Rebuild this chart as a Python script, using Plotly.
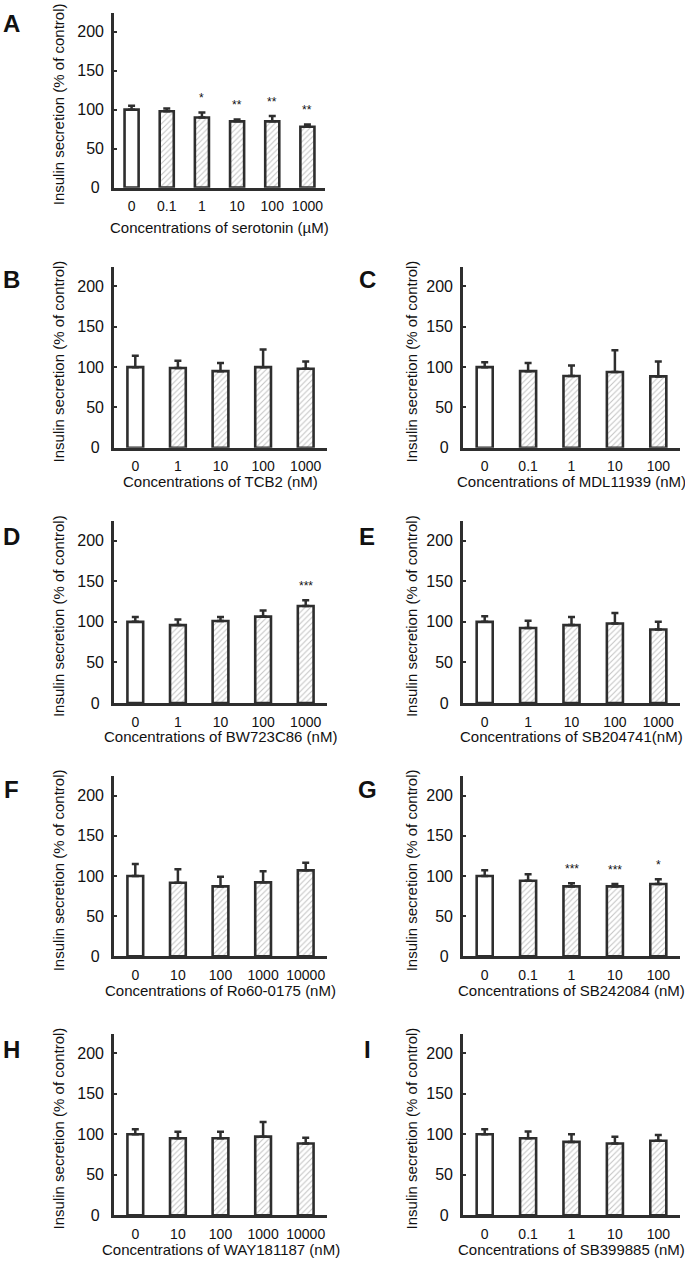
import plotly.graph_objects as go

# ---------------- data ----------------
A_conc = ["0", "0.1", "1", "10", "100", "1000"]
A_mean = [100, 98, 90, 85, 85, 78]
A_err = [5, 3.5, 6.5, 2.5, 7, 3]
A_sig = ["", "", "*", "**", "**", "**"]
A_label = "Concentrations of serotonin (µM)"

B_conc = ["0", "1", "10", "100", "1000"]
B_mean = [100, 99, 95, 100, 98]
B_err = [14, 9, 10, 22, 9]
B_sig = ["", "", "", "", ""]
B_label = "Concentrations of TCB2 (nM)"

C_conc = ["0", "0.1", "1", "10", "100"]
C_mean = [100, 95, 89, 94, 88.5]
C_err = [6, 10, 13, 27, 18.5]
C_sig = ["", "", "", "", ""]
C_label = "Concentrations of MDL11939 (nM)"

D_conc = ["0", "1", "10", "100", "1000"]
D_mean = [100, 96, 101, 106.5, 119.5]
D_err = [6, 7, 5, 7.5, 7]
D_sig = ["", "", "", "", "***"]
D_label = "Concentrations of BW723C86 (nM)"

E_conc = ["0", "1", "10", "100", "1000"]
E_mean = [100, 92.5, 96, 98, 90.5]
E_err = [7, 9, 10, 13, 9.5]
E_sig = ["", "", "", "", ""]
E_label = "Concentrations of SB204741(nM)"

F_conc = ["0", "10", "100", "1000", "10000"]
F_mean = [100, 91.5, 87, 92, 107]
F_err = [15, 17, 12, 14, 9.5]
F_sig = ["", "", "", "", ""]
F_label = "Concentrations of Ro60-0175 (nM)"

G_conc = ["0", "0.1", "1", "10", "100"]
G_mean = [100, 94, 87, 87, 90]
G_err = [7, 8, 4, 3, 6]
G_sig = ["", "", "***", "***", "*"]
G_label = "Concentrations of SB242084 (nM)"

H_conc = ["0", "10", "100", "1000", "10000"]
H_mean = [100, 95, 95, 97, 88.5]
H_err = [6, 8, 8, 18, 7]
H_sig = ["", "", "", "", ""]
H_label = "Concentrations of WAY181187 (nM)"

I_conc = ["0", "0.1", "1", "10", "100"]
I_mean = [100, 95, 90.5, 88.5, 92]
I_err = [6, 8.5, 9.5, 8.5, 7]
I_sig = ["", "", "", "", ""]
I_label = "Concentrations of SB399885 (nM)"

y_ticks = [0, 50, 100, 150, 200]
y_title = "Insulin secretion (% of control)"

# ---------------- layout geometry (pixels) ----------------
W, H = 685, 1271
LINE = "#2e2e2e"
TEXT = "#111111"
FONT = "Liberation Sans, Arial, sans-serif"

rows = [(13, 189), (269, 451), (525, 708), (782, 963), (1041, 1224)]
letter_tops = [14, 272, 531, 786, 1047]
title_off = [40, 34, 34, 35, 34]
cols = [(114, 327), (463, 680)]
ytitle_x = [58, 411]
letter_x = [11, 367]

panels = [
    ("A", A_conc, A_mean, A_err, A_sig, A_label, 0, 0),
    ("B", B_conc, B_mean, B_err, B_sig, B_label, 1, 0),
    ("C", C_conc, C_mean, C_err, C_sig, C_label, 1, 1),
    ("D", D_conc, D_mean, D_err, D_sig, D_label, 2, 0),
    ("E", E_conc, E_mean, E_err, E_sig, E_label, 2, 1),
    ("F", F_conc, F_mean, F_err, F_sig, F_label, 3, 0),
    ("G", G_conc, G_mean, G_err, G_sig, G_label, 3, 1),
    ("H", H_conc, H_mean, H_err, H_sig, H_label, 4, 0),
    ("I", I_conc, I_mean, I_err, I_sig, I_label, 4, 1),
]

fig = go.Figure()
layout = {}
annotations = []

for i, (letter, conc, mean, err, sig, xlabel, r, c) in enumerate(panels):
    k = i + 1
    xa = "x" if k == 1 else f"x{k}"
    ya = "y" if k == 1 else f"y{k}"
    n = len(conc)
    top, zero = rows[r]
    x0, x1 = cols[c]
    if letter == "A":
        x1 = 325
    bw = 0.4 if n == 6 else 0.37

    fig.add_trace(go.Bar(
        x=conc, y=mean, width=bw, xaxis=xa, yaxis=ya,
        marker=dict(
            color="white",
            line=dict(color=LINE, width=2.6),
            pattern=dict(shape=["" if j == 0 else "/" for j in range(n)],
                         fgcolor="#858585", bgcolor="white", size=4, solidity=0.25),
        ),
        error_y=dict(type="data", symmetric=False, array=err, arrayminus=[0] * n,
                     color=LINE, thickness=2.5, width=3.5),
        showlegend=False, hoverinfo="skip",
    ))

    layout["xaxis" if k == 1 else f"xaxis{k}"] = dict(
        domain=[x0 / W, x1 / W], anchor=ya, type="category",
        range=[-0.5, n - 0.5], showline=True, linecolor=LINE, linewidth=2.6,
        ticks="", showgrid=False, zeroline=False, fixedrange=True,
        tickfont=dict(size=14, color=TEXT, family=FONT), ticklabelstandoff=4,
    )
    layout["yaxis" if k == 1 else f"yaxis{k}"] = dict(
        domain=[1 - zero / H, 1 - top / H], anchor=xa, range=[0, 224],
        tickvals=y_ticks, ticktext=["0\u00a0", "50", "100", "150", "200"],
        ticks="inside", ticklen=3, tickwidth=2, tickcolor=LINE,
        showline=True, linecolor=LINE, linewidth=2.6,
        showgrid=False, zeroline=False, fixedrange=True,
        tickfont=dict(size=16, color=TEXT, family=FONT), ticklabelstandoff=4,
    )

    # significance stars (x given as category index)
    for j in range(n):
        if sig[j]:
            annotations.append(dict(
                x=j, y=mean[j] + err[j], xref=xa, yref=ya, text=sig[j],
                showarrow=False, yanchor="bottom", yshift=5,
                font=dict(size=12, color=TEXT, family=FONT),
            ))
    # x title
    annotations.append(dict(
        x=((x0 + x1) / 2) / W, y=1 - (zero + title_off[r]) / H, xref="paper", yref="paper",
        text=xlabel, showarrow=False, xanchor="center", yanchor="middle",
        font=dict(size=15, color=TEXT, family=FONT),
    ))
    # y title
    annotations.append(dict(
        x=ytitle_x[c] / W, y=1 - ((top + zero) / 2 + 4) / H, xref="paper", yref="paper",
        text=y_title, showarrow=False, textangle=-90, xanchor="center", yanchor="middle",
        font=dict(size=15, color=TEXT, family=FONT),
    ))
    # panel letter
    annotations.append(dict(
        x=letter_x[c] / W, y=1 - (letter_tops[r] - 6) / H, xref="paper", yref="paper",
        text=f"<b>{letter}</b>", showarrow=False, xanchor="center", yanchor="top",
        font=dict(size=24, color="#111111", family=FONT),
    ))

fig.update_layout(
    width=W, height=H, margin=dict(l=0, r=0, t=0, b=0),
    paper_bgcolor="white", plot_bgcolor="white",
    annotations=annotations, bargap=0.6,
    **layout,
)

fig.write_html(
    "out.html",
    config={"displayModeBar": False},
    post_script="document.body.style.margin='0';document.body.style.overflow='hidden';",
)
